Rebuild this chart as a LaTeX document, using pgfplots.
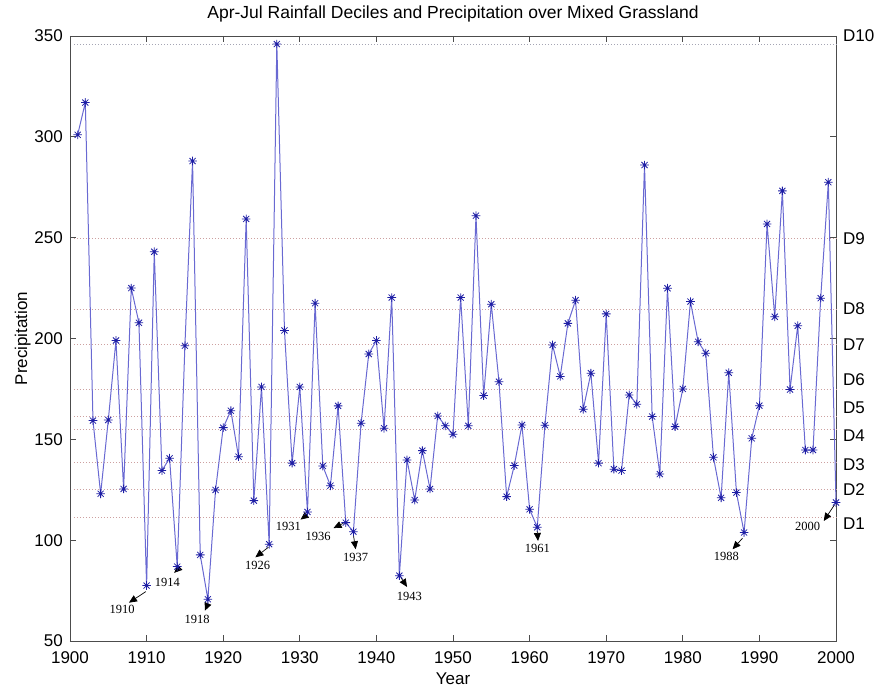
\documentclass[border=0pt]{standalone}
\usepackage{fontspec}
\setmainfont{Liberation Sans}
\newfontfamily\serifann{Liberation Serif}
\usepackage{pgfplots}
\pgfplotsset{compat=1.18}
\usetikzlibrary{arrows.meta,calc}

\definecolor{linec}{RGB}{105,105,210}
\definecolor{markc}{RGB}{30,30,165}
\definecolor{decc}{RGB}{205,160,160}
\definecolor{dectop}{RGB}{165,165,180}

\pgfdeclareplotmark{ast8}{%
  \pgfpathmoveto{\pgfqpoint{-\pgfplotmarksize}{0pt}}\pgfpathlineto{\pgfqpoint{\pgfplotmarksize}{0pt}}%
  \pgfpathmoveto{\pgfqpoint{0pt}{-\pgfplotmarksize}}\pgfpathlineto{\pgfqpoint{0pt}{\pgfplotmarksize}}%
  \pgfpathmoveto{\pgfqpoint{-.707\pgfplotmarksize}{-.707\pgfplotmarksize}}\pgfpathlineto{\pgfqpoint{.707\pgfplotmarksize}{.707\pgfplotmarksize}}%
  \pgfpathmoveto{\pgfqpoint{-.707\pgfplotmarksize}{.707\pgfplotmarksize}}\pgfpathlineto{\pgfqpoint{.707\pgfplotmarksize}{-.707\pgfplotmarksize}}%
  \pgfusepathqstroke}

\newcommand{\ann}[5]{%
  \draw[-{Triangle[length=8pt,width=7pt]}, line width=0.7pt, black] (axis cs:#1) -- (axis cs:#2);
  \node[font=\serifann\fontsize{12.5}{14}\selectfont, inner sep=0pt] at (axis cs:#3,#4) {#5};}
\newcommand{\dlab}[2]{%
  \node[anchor=west, inner sep=0pt, font=\fontsize{17}{20}\selectfont, xshift=7pt] at (axis cs:2000,#1) {#2};}

\begin{document}
\begin{tikzpicture}
\begin{axis}[
  scale only axis, width=766pt, height=605pt,
  xmin=1900, xmax=2000, ymin=50, ymax=350,
  xtick={1900,1910,...,2000}, ytick={50,100,...,350},
  tick align=inside, major tick length=6pt,
  /pgf/number format/assume math mode=true,
  xticklabel style={/pgf/number format/1000 sep={}, anchor=base, yshift=-22pt, inner sep=0pt},
  yticklabel style={anchor=east, inner sep=0pt, xshift=-7pt},
  tick label style={font=\fontsize{17}{20}\selectfont},
  axis line style={draw=black!70, line width=0.8pt},
  tick style={black!70, line width=0.8pt},
  xlabel={Year}, ylabel={Precipitation},
  label style={font=\fontsize{17}{20}\selectfont},
  xlabel style={at={(axis description cs:0.5,-0.0711)}, anchor=base},
  ylabel style={at={(axis description cs:-0.0561,0.5)}, anchor=base},
  title={Apr-Jul Rainfall Deciles and Precipitation over Mixed Grassland},
  title style={font=\fontsize{17.5}{20}\selectfont, at={(axis description cs:0.5,1.0198)}, anchor=base},
  clip=false,
]
% decile reference lines
\addplot[dectop, dotted, line width=1pt, forget plot] coordinates {(1900.5,346) (2000,346)};
\addplot[decc, dotted, line width=1pt, forget plot] coordinates {(1900.5,249.5) (2000,249.5)};
\addplot[decc, dotted, line width=1pt, forget plot] coordinates {(1900.5,214.6) (2000,214.6)};
\addplot[decc, dotted, line width=1pt, forget plot] coordinates {(1900.5,196.8) (2000,196.8)};
\addplot[decc, dotted, line width=1pt, forget plot] coordinates {(1900.5,174.8) (2000,174.8)};
\addplot[decc, dotted, line width=1pt, forget plot] coordinates {(1900.5,161.3) (2000,161.3)};
\addplot[decc, dotted, line width=1pt, forget plot] coordinates {(1900.5,155.0) (2000,155.0)};
\addplot[decc, dotted, line width=1pt, forget plot] coordinates {(1900.5,138.4) (2000,138.4)};
\addplot[decc, dotted, line width=1pt, forget plot] coordinates {(1900.5,125.0) (2000,125.0)};
\addplot[decc, dotted, line width=1pt, forget plot] coordinates {(1900.5,111.2) (2000,111.2)};

% precipitation series
\addplot[color=linec, line width=1pt, mark=ast8, mark size=4.3pt,
  mark options={color=markc, line width=0.8pt}] coordinates {
(1901,301) (1902,317) (1903,159.3) (1904,123) (1905,159.6) (1906,199)
(1907,125.4) (1908,225) (1909,207.8) (1910,77.5) (1911,243) (1912,134.5)
(1913,140.6) (1914,86.9) (1915,196.4) (1916,288) (1917,92.7) (1918,70.7)
(1919,124.9) (1920,155.8) (1921,164.2) (1922,141.4) (1923,259.3) (1924,119.6)
(1925,176) (1926,98) (1927,346) (1928,204) (1929,138.2) (1930,176)
(1931,114) (1932,217.5) (1933,136.8) (1934,127) (1935,166.6) (1936,108.7)
(1937,104.2) (1938,158) (1939,192.3) (1940,199) (1941,155.5) (1942,220.3)
(1943,82.4) (1944,139.8) (1945,119.9) (1946,144.4) (1947,125.4) (1948,161.6)
(1949,156.7) (1950,152.5) (1951,220.3) (1952,156.7) (1953,260.9) (1954,171.7)
(1955,217) (1956,178.6) (1957,121.6) (1958,137) (1959,157.1) (1960,115.3)
(1961,106.4) (1962,157) (1963,196.8) (1964,181.2) (1965,207.5) (1966,219)
(1967,164.9) (1968,182.8) (1969,138.2) (1970,212.2) (1971,135.2) (1972,134.5)
(1973,172) (1974,167.4) (1975,286) (1976,161.3) (1977,132.8) (1978,224.9)
(1979,156.3) (1980,175) (1981,218.3) (1982,198.4) (1983,192.7) (1984,141.1)
(1985,121) (1986,183) (1987,123.6) (1988,103.8) (1989,150.5) (1990,166.7)
(1991,256.8) (1992,210.8) (1993,273.2) (1994,174.7) (1995,206.3) (1996,144.7)
(1997,144.7) (1998,220) (1999,277.5) (2000,118.7)
};

% decile labels on the right
\dlab{350}{D10}
\dlab{249.3}{D9}
\dlab{214.6}{D8}
\dlab{196.8}{D7}
\dlab{179.4}{D6}
\dlab{165.6}{D5}
\dlab{151.7}{D4}
\dlab{137.3}{D3}
\dlab{125}{D2}
\dlab{108}{D1}

% year annotations
\ann{1909.9,74.5}{1907.7,69}{1906.8}{65.8}{1910}
\ann{1914.2,86}{1913.6,83.8}{1912.7}{79.1}{1914}
\ann{1918,68.5}{1917.6,65}{1916.6}{60.5}{1918}
\ann{1925.9,96.5}{1924.2,91.5}{1924.5}{87.7}{1926}
\ann{1930.9,112.5}{1930.1,110.2}{1928.5}{106.7}{1931}
\ann{1935.7,108.4}{1934.4,106}{1932.4}{101.8}{1936}
\ann{1937,102.5}{1937.3,95.5}{1937.3}{91.3}{1937}
\ann{1943.2,81.5}{1944,76.8}{1944.3}{72}{1943}
\ann{1961,104.5}{1961.1,99.6}{1961}{95.7}{1961}
\ann{1987.8,101}{1986.5,95.5}{1985.7}{91.8}{1988}
\ann{1999.8,117.5}{1998.4,109.5}{1996.3}{107}{2000}
\end{axis}
\pgfresetboundingbox
\path ($(current axis.south west)+(-70pt,-47pt)$) rectangle ($(current axis.north east)+(44pt,36pt)$);
\end{tikzpicture}
\end{document}
